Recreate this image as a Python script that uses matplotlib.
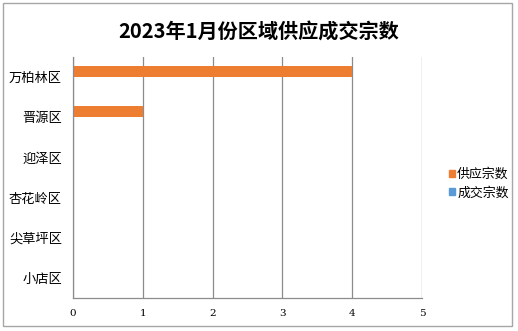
import matplotlib
matplotlib.use("Agg")
import matplotlib.pyplot as plt
from matplotlib.patches import Rectangle, Patch
import numpy as np

plt.rcParams['font.family'] = ['Noto Sans CJK SC', 'DejaVu Sans']

title = "2023年1月份区域供应成交宗数"
districts = ["万柏林区", "晋源区", "迎泽区", "杏花岭区", "尖草坪区", "小店区"]
supply = [4, 1, 0, 0, 0, 0]
deals = [0, 0, 0, 0, 0, 0]
series_names = ["供应宗数", "成交宗数"]
x_ticks = [0, 1, 2, 3, 4, 5]

orange = "#ED7D31"
blue = "#5B9BD5"
grid_col = "#8C8C8C"

fig = plt.figure(figsize=(5.18, 3.31), dpi=100)
fig.patch.set_facecolor("white")

# chart area border
fig.patches.append(Rectangle((0.005, 0.015), 0.984, 0.975, transform=fig.transFigure,
                             fill=False, edgecolor="#A6A6A6", linewidth=1.0))

ax = fig.add_axes([0.1409, 0.0997, 0.6737, 0.7281])

y = np.arange(len(districts))
h = 0.27
ax.barh(y - h / 2, supply, height=h, color=orange, label=series_names[0])
ax.barh(y + h / 2, deals, height=h, color=blue, label=series_names[1])

ax.set_ylim(len(districts) - 0.5, -0.5)
ax.set_yticks(y)
ax.set_yticklabels(districts, fontsize=9.5)
ax.set_xlim(0, 5)
ax.set_xticks(x_ticks)
ax.set_xticklabels([str(t) for t in x_ticks], fontsize=7.5, family="DejaVu Serif")

ax.xaxis.grid(True, color=grid_col, linewidth=0.9)
ax.set_axisbelow(True)
for s in ["top", "right"]:
    ax.spines[s].set_visible(False)
for s in ["left", "bottom"]:
    ax.spines[s].set_color(grid_col)
    ax.spines[s].set_linewidth(0.9)
ax.tick_params(axis="y", length=0, pad=8)
ax.tick_params(axis="x", length=0, pad=8)

fig.text(0.5, 0.905, title, ha="center", va="center", fontsize=14.5, fontweight="bold")

handles = [Patch(color=orange), Patch(color=blue)]
fig.legend(handles, series_names, loc="center left", bbox_to_anchor=(0.845, 0.445),
           frameon=False, fontsize=9.3, handlelength=0.45, handleheight=0.45,
           handletextpad=0.15, labelspacing=0.4)

fig.savefig("out.png", dpi=100)
